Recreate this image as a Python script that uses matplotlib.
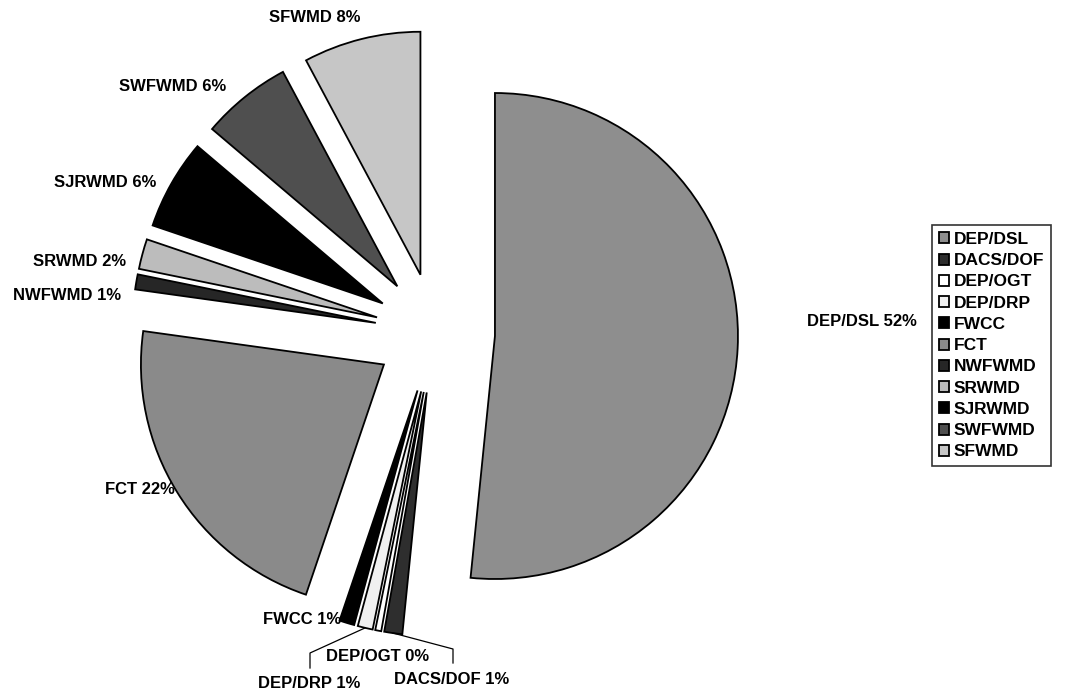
import numpy as np
import matplotlib
matplotlib.use("Agg")
import matplotlib.pyplot as plt

plt.rcParams['font.family'] = ['Liberation Sans', 'DejaVu Sans']

# slice data, clockwise from 12 o'clock
agencies = ["DEP/DSL", "DACS/DOF", "DEP/OGT", "DEP/DRP", "FWCC", "FCT",
            "NWFWMD", "SRWMD", "SJRWMD", "SWFWMD", "SFWMD"]
shares = [51.6, 1.2, 0.4, 1.0, 1.0, 22.0, 1.0, 2.0, 6.0, 6.0, 7.8]
shown_pct = [52, 1, 0, 1, 1, 22, 1, 2, 6, 6, 8]

colors = ["#8e8e8e", "#2e2e2e", "#ffffff", "#f0f0f0", "#000000", "#8a8a8a",
          "#262626", "#bcbcbc", "#000000", "#4f4f4f", "#c6c6c6"]

W, H = 1070, 692
cx, cy, R = 435, 333, 243   # pie centre and radius in pixels


def px(x, y):
    return (x - cx) / R, (cy - y) / R


fig = plt.figure(figsize=(W / 100, H / 100), dpi=100)
ax = fig.add_axes([0, 0, 1, 1])

wedges, _ = ax.pie(shares, colors=colors, startangle=90, counterclock=False,
                   explode=[0.247] * len(shares), radius=1.0,
                   wedgeprops=dict(edgecolor="black", linewidth=1.3))

ax.set_xlim(px(0, 0)[0], px(W, 0)[0])
ax.set_ylim(px(0, H)[1], px(0, 0)[1])
ax.set_aspect("equal")
ax.axis("off")

# label placement (pixel centres of the text)
label_pos = {
    "DEP/DSL": (862, 322),
    "DACS/DOF": (452, 680),
    "DEP/OGT": (378, 657),
    "DEP/DRP": (309, 683),
    "FWCC": (302, 620),
    "FCT": (140, 490),
    "NWFWMD": (67, 295),
    "SRWMD": (80, 262),
    "SJRWMD": (105, 182),
    "SWFWMD": (173, 86),
    "SFWMD": (315, 18),
}
for name, p in zip(agencies, shown_pct):
    x, y = px(*label_pos[name])
    ax.text(x, y, f"{name} {p}%", ha="center", va="center",
            fontsize=12, fontweight="bold")

# leader lines for the two crowded labels at the bottom
elbows = {"DEP/DRP": [(310, 653), (310, 668)],
          "DACS/DOF": [(453, 649), (453, 663)]}
for name, pts in elbows.items():
    w = wedges[agencies.index(name)]
    mid = np.deg2rad((w.theta1 + w.theta2) / 2)
    x0 = w.center[0] + w.r * np.cos(mid)
    y0 = w.center[1] + w.r * np.sin(mid)
    xs = [x0] + [px(*q)[0] for q in pts]
    ys = [y0] + [px(*q)[1] for q in pts]
    ax.plot(xs, ys, color="black", linewidth=0.9)

leg = ax.legend(wedges, agencies, loc="upper left",
                bbox_to_anchor=(932 / W, 1 - 225 / H),
                prop=dict(size=12.5, weight="bold"),
                frameon=True, fancybox=False, edgecolor="black",
                handlelength=0.6, handleheight=0.6, handletextpad=0.25,
                labelspacing=0.36, borderpad=0.4, borderaxespad=0)
leg.get_frame().set_linewidth(1.2)

fig.savefig("out.png", dpi=100)
